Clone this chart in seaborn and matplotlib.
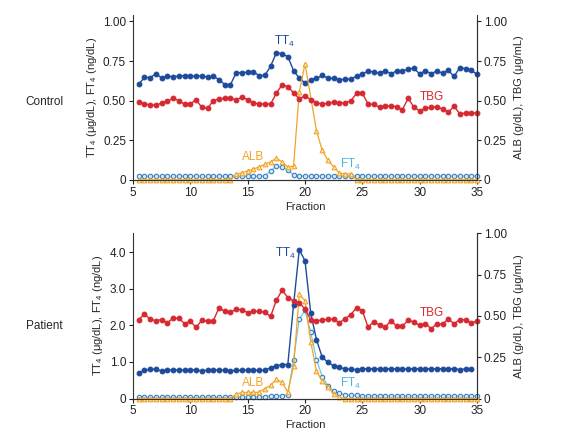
import numpy as np
import pandas as pd
import matplotlib
matplotlib.use("Agg")
import matplotlib.pyplot as plt
import seaborn as sns

# fractions 5.5 ... 35.0 (step 0.5)
fractions = np.arange(5.5, 35.01, 0.5)

# ---------- Control ----------
ctrl_tt4 = [0.603, 0.647, 0.645, 0.670, 0.643, 0.655, 0.650, 0.656, 0.658, 0.658,
            0.653, 0.658, 0.648, 0.654, 0.633, 0.601, 0.601, 0.677, 0.677, 0.679,
            0.682, 0.658, 0.660, 0.717, 0.802, 0.796, 0.778, 0.690, 0.642, 0.612,
            0.630, 0.640, 0.659, 0.642, 0.640, 0.633, 0.634, 0.637, 0.654, 0.670,
            0.685, 0.681, 0.673, 0.690, 0.669, 0.688, 0.685, 0.701, 0.703, 0.669,
            0.689, 0.670, 0.687, 0.673, 0.691, 0.653, 0.708, 0.702, 0.693, 0.665]
ctrl_tbg = [0.490, 0.479, 0.474, 0.470, 0.485, 0.495, 0.515, 0.500, 0.477, 0.481,
            0.504, 0.458, 0.451, 0.500, 0.511, 0.515, 0.515, 0.504, 0.523, 0.506,
            0.486, 0.479, 0.479, 0.479, 0.547, 0.600, 0.588, 0.550, 0.510, 0.532,
            0.505, 0.488, 0.478, 0.483, 0.490, 0.483, 0.487, 0.499, 0.546, 0.546,
            0.479, 0.476, 0.458, 0.468, 0.466, 0.462, 0.444, 0.515, 0.458, 0.435,
            0.451, 0.457, 0.462, 0.446, 0.427, 0.465, 0.416, 0.422, 0.422, 0.422]
ctrl_alb = [0, 0, 0, 0, 0, 0, 0, 0, 0, 0,
            0, 0, 0, 0, 0, 0, 0, 0.035, 0.045, 0.057,
            0.068, 0.082, 0.098, 0.114, 0.136, 0.114, 0.080, 0.087, 0.556, 0.732,
            np.nan, 0.310, 0.187, 0.123, 0.082, 0.043, 0.038, 0.038, 0, 0,
            0, 0, 0, 0, 0, 0, 0, 0, 0, 0,
            0, 0, 0, 0, 0, 0, 0, 0, 0, 0]
ctrl_ft4 = [0.023] * 20 + \
           [0.023, 0.023, 0.025, 0.057, 0.086, 0.078, 0.063, 0.030, 0.025, 0.024] + \
           [0.024] * 30

# ---------- Patient ----------
pat_tt4 = [0.70, 0.77, 0.80, 0.80, 0.75, 0.79, 0.78, 0.78, 0.78, 0.78,
           0.79, 0.75, 0.78, 0.78, 0.78, 0.77, 0.76, 0.77, 0.77, 0.78,
           0.77, 0.77, 0.78, 0.84, 0.90, 0.93, 0.93, 2.56, 4.07, 3.77,
           2.33, 1.61, 1.13, 0.99, 0.89, 0.85, 0.81, 0.80, 0.79, 0.81,
           0.82, 0.81, 0.81, 0.81, 0.82, 0.81, 0.81, 0.81, 0.82, 0.81,
           0.81, 0.82, 0.81, 0.82, 0.81, 0.82, 0.79, 0.81, 0.81]
pat_tbg = [0.478, 0.511, 0.480, 0.471, 0.478, 0.458, 0.487, 0.485, 0.454, 0.467,
           0.431, 0.473, 0.469, 0.471, 0.549, 0.527, 0.522, 0.540, 0.538, 0.520,
           0.527, 0.527, 0.522, 0.497, 0.594, 0.656, 0.611, 0.591, 0.581, 0.540,
           0.477, 0.470, 0.476, 0.479, 0.479, 0.459, 0.484, 0.508, 0.550, 0.530,
           0.432, 0.466, 0.444, 0.432, 0.472, 0.436, 0.438, 0.474, 0.462, 0.442,
           0.454, 0.422, 0.452, 0.450, 0.482, 0.452, 0.478, 0.476, 0.458, 0.468]
pat_alb = [0, 0, 0, 0, 0, 0, 0, 0, 0, 0,
           0, 0, 0, 0, 0, 0, 0, 0.027, 0.037, 0.037,
           0.037, 0.038, 0.060, 0.080, 0.117, 0.097, 0.039, 0.195, 0.630, 0.592,
           0.343, 0.165, 0.107, 0.068, 0.025, 0.008, 0, 0, 0, 0,
           0, 0, 0, 0, 0, 0, 0, 0, 0, 0,
           0, 0, 0, 0, 0, 0, 0, 0, 0, 0]
pat_ft4 = [0.03] * 17 + [0.04, 0.04, 0.04] + \
          [0.04, 0.05, 0.05, 0.08, 0.08, 0.08, 0.11, 1.06, 2.18, 2.41] + \
          [1.81, 1.06, 0.60, 0.35, 0.21, 0.14, 0.10, 0.09, 0.09, 0.08] + \
          [0.08] * 5 + [0.07] * 15

x_ticks = [5, 10, 15, 20, 25, 30, 35]
ctrl_left_ticks = [0, 0.25, 0.5, 0.75, 1.0]
ctrl_left_labels = ["0", "0.25", "0.50", "0.75", "1.00"]
pat_left_ticks = [0, 1, 2, 3, 4]
pat_left_labels = ["0", "1.0", "2.0", "3.0", "4.0"]
right_ticks = [0, 0.25, 0.5, 0.75, 1.0]
right_labels = ["0", "0.25", "0.50", "0.75", "1.00"]

# colours
C_TT4 = "#1d4b9b"
C_TBG = "#d62830"
C_ALB = "#f0a428"
C_FT4_LINE = "#72c8e6"
C_FT4_EDGE = "#3b7ec0"
C_FT4_TXT = "#4cb4e4"

sns.set_style("ticks")
plt.rcParams["font.family"] = ["Liberation Sans", "DejaVu Sans"]
plt.rcParams["mathtext.fontset"] = "custom"
plt.rcParams["mathtext.rm"] = "Liberation Sans"
plt.rcParams["mathtext.it"] = "Liberation Sans"
plt.rcParams["axes.edgecolor"] = "#333333"
plt.rcParams["axes.linewidth"] = 0.8

fig = plt.figure(figsize=(5.86, 4.43), dpi=100)


def draw_line(ax, y, color, marker, face, edge, lw=1.0, ms=3.4):
    s = pd.Series(y, index=fractions[:len(y)]).dropna()
    sns.lineplot(x=s.index.values, y=s.values, ax=ax, color=color, marker=marker,
                 markersize=ms, markerfacecolor=face, markeredgecolor=edge,
                 markeredgewidth=0.8, linewidth=lw, clip_on=False)


def panel(rect, tt4, ft4, tbg, alb, left_top, right_top, lticks, llabels,
          labels_pos, row_name, row_y):
    ax = fig.add_axes(rect)
    ax2 = ax.twinx()
    draw_line(ax, ft4, C_FT4_LINE, "o", "#d5eaf7", C_FT4_EDGE, lw=0.9, ms=3.2)
    draw_line(ax, tt4, C_TT4, "o", C_TT4, C_TT4)
    draw_line(ax2, alb, C_ALB, "^", "#fbe7c0", C_ALB, lw=0.9, ms=3.4)
    draw_line(ax2, tbg, C_TBG, "o", C_TBG, C_TBG)

    ax.set_xlim(5, 35)
    ax.set_ylim(0, left_top)
    ax.set_xticks(x_ticks)
    ax.set_yticks(lticks)
    ax.set_yticklabels(llabels)
    ax2.set_ylim(0, right_top)
    ax2.set_yticks(right_ticks)
    ax2.set_yticklabels(right_labels)
    ax2.spines["right"].set_bounds(0, 1.0)
    for a in (ax, ax2):
        a.spines["top"].set_visible(False)
        a.tick_params(direction="out", length=3, width=0.8, labelsize=8.5,
                      colors="#222222", pad=2)
    ax2.spines["left"].set_visible(False)
    ax.set_xlabel("Fraction", fontsize=8, labelpad=2)
    ax.set_ylabel("TT$_4$ (\u03bcg/dL), FT$_4$ (ng/dL)", fontsize=8, labelpad=3)
    ax2.set_ylabel("ALB (g/dL), TBG (\u03bcg/mL)", fontsize=8, labelpad=5)

    (tt4_xy, ft4_xy, tbg_xy, alb_xy) = labels_pos
    ax.text(*tt4_xy, "TT$_4$", color=C_TT4, fontsize=8.5, ha="center", va="center")
    ax.text(*ft4_xy, "FT$_4$", color=C_FT4_TXT, fontsize=8.5, ha="center", va="center")
    ax2.text(*tbg_xy, "TBG", color=C_TBG, fontsize=8.5, ha="center", va="center")
    ax2.text(*alb_xy, "ALB", color=C_ALB, fontsize=8.5, ha="center", va="center")
    fig.text(0.075, row_y, row_name, fontsize=8.5, ha="center", va="center")
    return ax, ax2


panel([0.227, 0.594, 0.587, 0.372], ctrl_tt4, ctrl_ft4, ctrl_tbg, ctrl_alb,
      1.04, 1.04, ctrl_left_ticks, ctrl_left_labels,
      ((18.2, 0.875), (24.0, 0.10), (31.1, 0.52), (15.5, 0.145)),
      "Control", 0.770)

panel([0.227, 0.1004, 0.587, 0.373], pat_tt4, pat_ft4, pat_tbg, pat_alb,
      4.52, 1.0, pat_left_ticks, pat_left_labels,
      ((18.3, 3.98), (24.0, 0.40), (31.1, 0.52), (15.5, 0.093)),
      "Patient", 0.264)

fig.savefig("out.png", dpi=100)
